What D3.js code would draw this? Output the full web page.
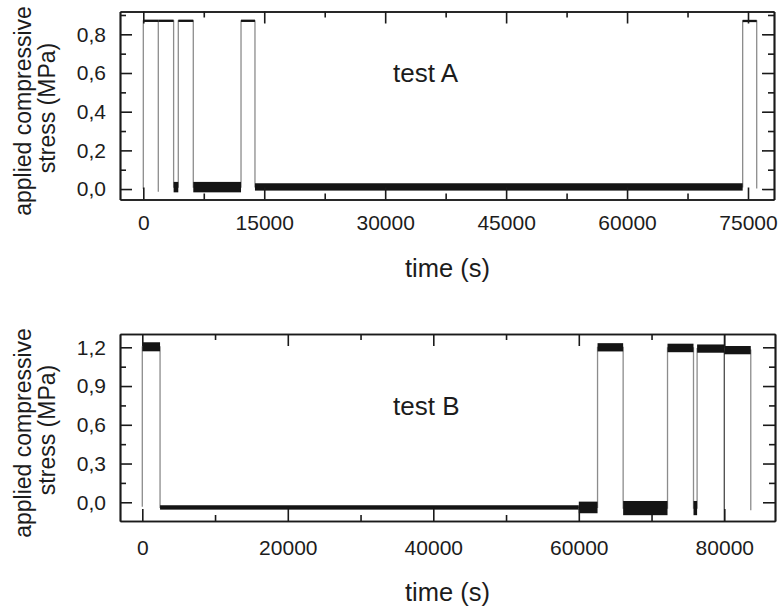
<!DOCTYPE html>
<html><head><meta charset="utf-8">
<script src="https://cdn.jsdelivr.net/npm/d3@7"></script>
<style>
body{margin:0;background:#fff}
text{font-family:"Liberation Sans",Arial,Helvetica,sans-serif;fill:#1c1c1c}
</style>
</head><body>
<svg id="c" width="779" height="610"></svg>
<script>
// ---------------- Test A data (time in s, stress in MPa) ----------------
const segStartA = [0, 1860, 1860, 3760, 4340, 6200, 12120, 13850, 74340];
const segEndA   = [1860, 1860, 3760, 4340, 6200, 12120, 13850, 74340, 76080];
const levelA    = [0.870, -0.014, 0.870, 0.010, 0.870, 0.010, 0.870, 0.011, 0.869];
const noiseA    = [0.006, 0, 0.006, 0.027, 0.006, 0.027, 0.006, 0.019, 0.006];
const startValA = 0.0;
const endValA   = 0.003;
const xMajorA = [0, 15000, 30000, 45000, 60000, 75000];
const xMinorA = [7500, 22500, 37500, 52500, 67500];
const yMajorA = [0, 0.2, 0.4, 0.6, 0.8];
const yMinorA = [0.1, 0.3, 0.5, 0.7, 0.9];

// ---------------- Test B data ----------------
const segStartB = [0, 2440, 60000, 62577, 66096, 72195, 75767, 76262, 80000];
const segEndB   = [2440, 60000, 62577, 66096, 72195, 75767, 76262, 80000, 83640];
const levelB    = [1.204, -0.040, -0.040, 1.200, -0.045, 1.195, -0.045, 1.190, 1.178];
const noiseB    = [0.035, 0.017, 0.045, 0.032, 0.055, 0.033, 0.055, 0.032, 0.032];
const startValB = -0.034;
const endValB   = -0.061;
const markerB   = [80000];
const xMajorB = [0, 20000, 40000, 60000, 80000];
const xMinorB = [10000, 30000, 50000, 70000];
const yMajorB = [0, 0.3, 0.6, 0.9, 1.2];
const yMinorB = [0.15, 0.45, 0.75, 1.05];

const testLabels = ["test A", "test B"];
const xTitle = "time (s)";
const yTitle1 = "applied compressive";
const yTitle2 = "stress (MPa)";

const locale = d3.formatLocale({decimal: ",", thousands: "", grouping: [3], currency: ["", ""]});
const fmtY = locale.format(".1f");
const fmtX = d3.format("d");

const svg = d3.select("#c");

const panels = [
  {segS: segStartA, segE: segEndA, lvl: levelA, noise: noiseA, v0: startValA, v1: endValA, markers: [],
   xMaj: xMajorA, xMin: xMinorA, yMaj: yMajorA, yMin: yMinorA, label: testLabels[0],
   left: 120, right: 774, top: 11.5, bottom: 199.5,
   xDomain: [-2890, 78225], yDomain: [-0.054, 0.918],
   xPad: 15.5, titleY: 277, testY: 81.7, ylabC: 111},
  {segS: segStartB, segE: segEndB, lvl: levelB, noise: noiseB, v0: startValB, v1: endValB, markers: markerB,
   xMaj: xMajorB, xMin: xMinorB, yMaj: yMajorB, yMin: yMinorB, label: testLabels[1],
   left: 120, right: 775, top: 334, bottom: 521,
   xDomain: [-3065, 86970], yDomain: [-0.145, 1.303],
   xPad: 19.5, titleY: 601, testY: 415, ylabC: 433}
];

panels.forEach((p, i) => {
  const x = d3.scaleLinear().domain(p.xDomain).range([p.left, p.right]);
  const y = d3.scaleLinear().domain(p.yDomain).range([p.bottom, p.top]);
  const g = svg.append("g");

  const clipId = "clip" + i;
  svg.append("clipPath").attr("id", clipId).append("rect")
    .attr("x", p.left).attr("y", p.top).attr("width", p.right - p.left).attr("height", p.bottom - p.top);

  // trace (step path through plateaus)
  const pts = [[p.segS[0], p.v0]];
  p.segS.forEach((s, k) => { pts.push([s, p.lvl[k]]); pts.push([p.segE[k], p.lvl[k]]); });
  pts.push([p.segE[p.segE.length - 1], p.v1]);
  const line = d3.line().x(d => x(d[0])).y(d => y(d[1]));
  const data = g.append("g").attr("clip-path", `url(#${clipId})`);

  data.selectAll("line.marker").data(p.markers).join("line")
    .attr("x1", d => x(d)).attr("x2", d => x(d))
    .attr("y1", p.top).attr("y2", p.bottom)
    .attr("stroke", "#4a4a4a").attr("stroke-width", 1.3);

  data.append("path").datum(pts).attr("d", line)
    .attr("fill", "none").attr("stroke", "#8c8c8c").attr("stroke-width", 1.3);

  // noisy plateaus as bands
  const bands = p.segS.map((s, k) => ({s, e: p.segE[k], l: p.lvl[k], n: p.noise[k]})).filter(d => d.n > 0);
  data.selectAll("rect.band").data(bands).join("rect")
    .attr("x", d => x(d.s)).attr("width", d => Math.max(1, x(d.e) - x(d.s)))
    .attr("y", d => Math.min(y(d.l + d.n), y(d.l) - 1))
    .attr("height", d => Math.max(2, y(d.l - d.n) - y(d.l + d.n)))
    .attr("fill", "#141414");

  // axes: all ticks inward
  const styleAxis = sel => {
    sel.attr("font-size", 21).attr("font-family", "'Liberation Sans', Arial, sans-serif");
    sel.selectAll("path.domain").attr("stroke", "#1a1a1a").attr("stroke-width", 1.7);
    sel.selectAll(".tick line").attr("stroke", "#1a1a1a").attr("stroke-width", 1.6);
    sel.selectAll("text").attr("fill", "#1c1c1c");
  };
  g.append("g").attr("transform", `translate(0,${p.bottom})`)
    .call(d3.axisBottom(x).tickValues(p.xMaj).tickSize(-12).tickSizeOuter(0).tickPadding(p.xPad).tickFormat(fmtX)).call(styleAxis);
  g.append("g").attr("transform", `translate(0,${p.bottom})`)
    .call(d3.axisBottom(x).tickValues(p.xMin).tickSize(-6).tickSizeOuter(0).tickFormat("")).call(styleAxis);
  g.append("g").attr("transform", `translate(0,${p.top})`)
    .call(d3.axisTop(x).tickValues(p.xMaj).tickSize(-12).tickSizeOuter(0).tickFormat("")).call(styleAxis);
  g.append("g").attr("transform", `translate(0,${p.top})`)
    .call(d3.axisTop(x).tickValues(p.xMin).tickSize(-6).tickSizeOuter(0).tickFormat("")).call(styleAxis);
  g.append("g").attr("transform", `translate(${p.left},0)`)
    .call(d3.axisLeft(y).tickValues(p.yMaj).tickSize(-12).tickSizeOuter(0).tickPadding(14).tickFormat(fmtY)).call(styleAxis);
  g.append("g").attr("transform", `translate(${p.left},0)`)
    .call(d3.axisLeft(y).tickValues(p.yMin).tickSize(-6).tickSizeOuter(0).tickFormat("")).call(styleAxis);
  g.append("g").attr("transform", `translate(${p.right},0)`)
    .call(d3.axisRight(y).tickValues(p.yMaj).tickSize(-12).tickSizeOuter(0).tickFormat("")).call(styleAxis);
  g.append("g").attr("transform", `translate(${p.right},0)`)
    .call(d3.axisRight(y).tickValues(p.yMin).tickSize(-6).tickSizeOuter(0).tickFormat("")).call(styleAxis);

  // titles
  g.append("text").attr("x", 447.5).attr("y", p.titleY).attr("text-anchor", "middle")
    .attr("font-size", 25.5).text(xTitle);
  g.append("text").attr("x", 393).attr("y", p.testY).attr("font-size", 26).text(p.label);
  g.append("text").attr("transform", `translate(31,${p.ylabC}) rotate(-90)`).attr("text-anchor", "middle")
    .attr("font-size", 23).text(yTitle1);
  g.append("text").attr("transform", `translate(55,${p.ylabC - 3}) rotate(-90)`).attr("text-anchor", "middle")
    .attr("font-size", 23).text(yTitle2);
});
</script>
</body></html>
